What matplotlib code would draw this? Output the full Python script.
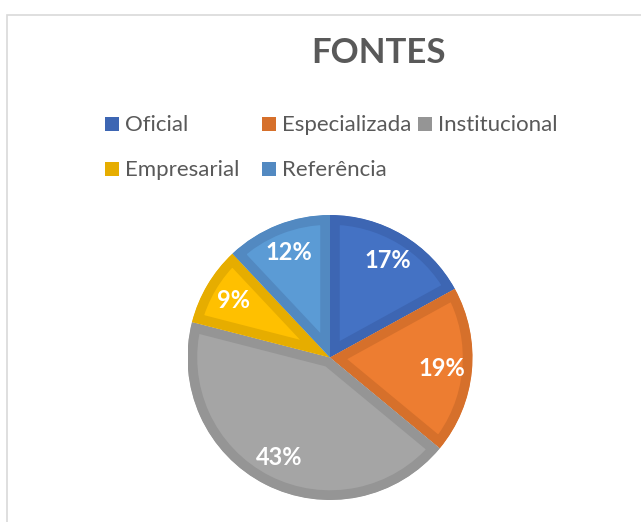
import matplotlib.pyplot as plt
from matplotlib.patches import Rectangle

categorias = ['Oficial', 'Especializada', 'Institucional', 'Empresarial', 'Referência']
valores = [17, 19, 43, 9, 12]
cores = ['#4472C4', '#ED7D31', '#A5A5A5', '#FFC000', '#5B9BD5']
bordas = ['#3D66B3', '#D6702B', '#959595', '#E6AD00', '#5289C1']

plt.rcParams['font.family'] = ['Lato', 'DejaVu Sans']
cinza = '#595959'
W, H = 641, 522

fig = plt.figure(figsize=(W / 100, H / 100), dpi=100)

# moldura do grafico (estilo Excel)
fig.patches.append(Rectangle((7 / W, -0.1), 1.0, 1.1 - 15 / H,
                             transform=fig.transFigure, fill=False,
                             edgecolor='#D9D9D9', linewidth=1.2))

fig.text(378 / W, 1 - 53 / H, 'FONTES', ha='center', va='center',
         fontsize=25, fontweight='bold', color=cinza)

cx, cy, r = 330, 357.5, 142.5
ax = fig.add_axes([(cx - r) / W, (H - cy - r) / H, 2 * r / W, 2 * r / H])
wedges, textos, pcts = ax.pie(valores, colors=cores, startangle=90, counterclock=False,
                              autopct='%1.0f%%', pctdistance=0.79, radius=1,
                              wedgeprops=dict(linewidth=14))
for w, b in zip(wedges, bordas):
    w.set_edgecolor(b)
    w.set_clip_on(True)
    w.set_clip_path(w)  # borda so por dentro da fatia
for t in pcts:
    t.set_color('white')
    t.set_fontweight('bold')
    t.set_fontsize(17)
ax.set_xlim(-1, 1)
ax.set_ylim(-1, 1)
ax.set_aspect('equal')
ax.axis('off')

# legenda em grade, preenchida por linhas como no Excel
col_x = [105, 262, 418]
lin_y = [131, 176]  # linha de base do texto
for i, (nome, b) in enumerate(zip(categorias, bordas)):
    x = col_x[i % 3]
    y = lin_y[i // 3]
    fig.patches.append(Rectangle((x / W, 1 - y / H), 14 / W, 14 / H,
                                 transform=fig.transFigure, facecolor=b, edgecolor='none'))
    fig.text((x + 20) / W, 1 - y / H, nome, ha='left', va='baseline',
             fontsize=16, color=cinza)

fig.savefig('out.png', dpi=100)
